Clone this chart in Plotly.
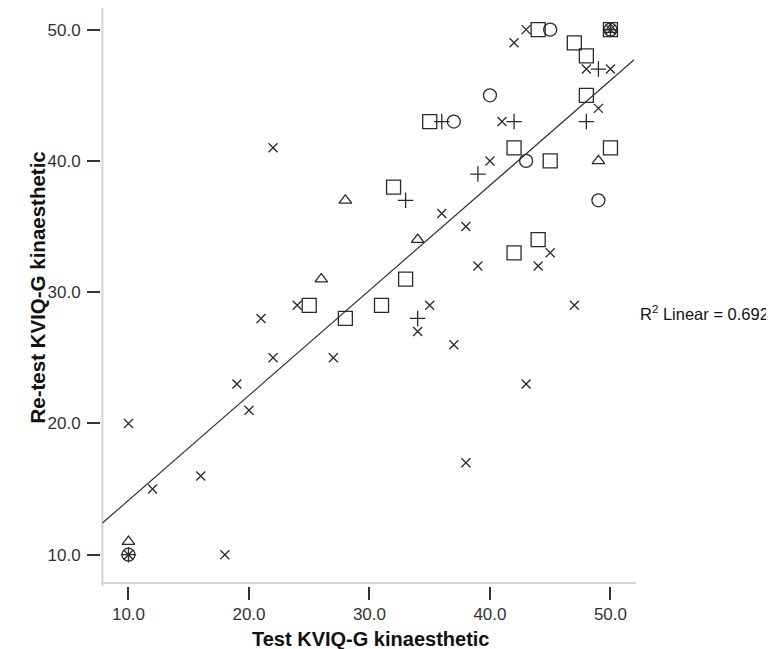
import plotly.graph_objects as go

# ---- data ----
x_cross = [43, 42, 48, 50, 49, 41, 40, 36, 38, 45, 39, 44, 35, 47, 22, 24, 21, 22, 27, 19, 20, 10, 16, 12, 18, 34, 37, 43, 38, 10, 50]
y_cross = [50, 49, 47, 47, 44, 43, 40, 36, 35, 33, 32, 32, 29, 29, 41, 29, 28, 25, 25, 23, 21, 20, 16, 15, 10, 27, 26, 23, 17, 10, 50]

x_plus = [49, 48, 36, 42, 39, 33, 34, 10, 50]
y_plus = [47, 43, 43, 43, 39, 37, 28, 10, 50]

x_square = [44, 47, 48, 48, 35, 42, 45, 50, 32, 44, 42, 33, 31, 25, 28, 50]
y_square = [50, 49, 48, 45, 43, 41, 40, 41, 38, 34, 33, 31, 29, 29, 28, 50]

x_circle = [45, 40, 37, 43, 49, 10, 50]
y_circle = [50, 45, 43, 40, 37, 10, 50]

x_triangle = [49, 28, 34, 26, 10, 50]
y_triangle = [40, 37, 34, 31, 11, 50]

fit_intercept = 6.14
fit_slope = 0.80
r2_linear = 0.692

tick_values = [10, 20, 30, 40, 50]
tick_labels = ["10.0", "20.0", "30.0", "40.0", "50.0"]

x_title = "Test KVIQ-G kinaesthetic"
y_title = "Re-test KVIQ-G kinaesthetic"

# ---- layout constants ----
X_RANGE = [7.72, 52.12]
Y_RANGE = [7.615, 51.65]
AXIS_ORIGIN = 7.84
FIT_X = [AXIS_ORIGIN, 51.96]

FONT = "Liberation Sans, Arial, sans-serif"
INK = "#2a2a2a"

fig = go.Figure()

def add_group(xs, ys, symbol, size, width=1.3):
    fig.add_trace(go.Scatter(
        x=xs, y=ys, mode="markers", showlegend=False, hoverinfo="skip",
        marker=dict(symbol=symbol, size=size, color=INK,
                    line=dict(color=INK, width=width)),
    ))

add_group(x_square, y_square, "square-open", 14)
add_group(x_circle, y_circle, "circle-open", 13)
add_group(x_triangle, y_triangle, "triangle-up-open", 11)
add_group(x_cross, y_cross, "x-thin", 9)
add_group(x_plus, y_plus, "cross-thin", 11)

fit_y = [fit_intercept + fit_slope * v for v in FIT_X]
fig.add_trace(go.Scatter(x=FIT_X, y=fit_y, mode="lines", showlegend=False,
                         hoverinfo="skip", line=dict(color="#333333", width=1.2)))

axis_common = dict(
    showgrid=False, zeroline=False, showline=False, automargin=False,
    ticks="outside", ticklen=13, tickwidth=1.6, tickcolor="#333333",
    tickvals=tick_values, ticktext=tick_labels,
    tickfont=dict(family=FONT, size=17, color="#333333"),
)

fig.update_layout(
    width=774, height=649,
    margin=dict(l=92.5, r=146, t=0, b=71, pad=0),
    paper_bgcolor="white", plot_bgcolor="white",
    xaxis=dict(range=X_RANGE, **axis_common),
    yaxis=dict(range=Y_RANGE, ticklabelstandoff=3, **axis_common),
    shapes=[
        dict(type="line", xref="x", yref="paper", x0=AXIS_ORIGIN, x1=AXIS_ORIGIN,
             y0=0.0, y1=1.0, line=dict(color="#d4d4d4", width=2), layer="below"),
        dict(type="line", xref="paper", yref="y", x0=0.0, x1=1.0,
             y0=AXIS_ORIGIN, y1=AXIS_ORIGIN, line=dict(color="#d4d4d4", width=2), layer="below"),
    ],
    annotations=[
        dict(xref="paper", yref="paper", x=0.503, y=-0.092, xanchor="center", yanchor="middle",
             showarrow=False, text=f"<b>{x_title}</b>",
             font=dict(family=FONT, size=20, color="#111111")),
        dict(xref="paper", yref="paper", x=-0.119, y=0.517, xanchor="center", yanchor="middle",
             showarrow=False, textangle=-90, text=f"<b>{y_title}</b>",
             font=dict(family=FONT, size=20.5, color="#111111")),
        dict(xref="paper", yref="y", x=1.003, y=28.4, xanchor="left", yanchor="middle",
             showarrow=False, text=f"R<sup>2</sup> Linear = {r2_linear:.3f}",
             font=dict(family=FONT, size=16.5, color="#111111")),
    ],
)

fig.write_html("out.html")
